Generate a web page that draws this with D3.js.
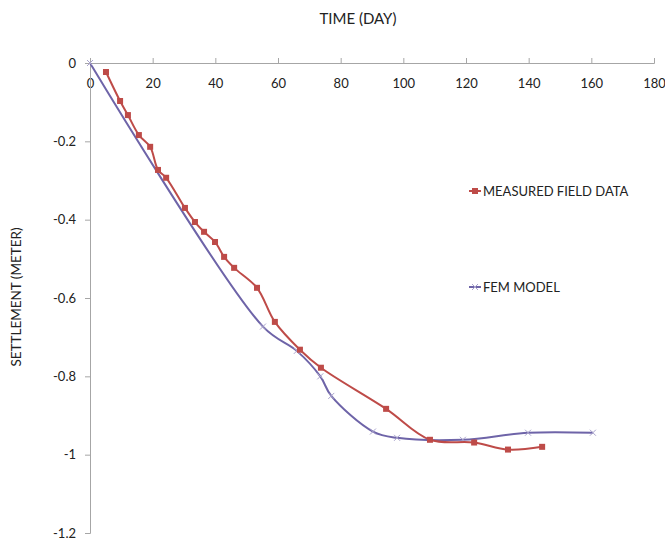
<!DOCTYPE html>
<html>
<head>
<meta charset="utf-8">
<script src="https://cdn.jsdelivr.net/npm/d3@7"></script>
<style>
  body { margin: 0; background: #fff; }
  text { font-family: Lato, "Open Sans", sans-serif; fill: #222; }
</style>
</head>
<body>
<div class="canvas"></div>
<script>
// Data
var measuredDays = [5.1, 9.6, 12.1, 15.6, 19.2, 21.7, 24.3, 30.3, 33.5, 36.4, 39.9, 42.8, 46.0, 53.3, 59.0, 67.0, 73.7, 94.5, 108.5, 122.6, 133.4, 144.3],
    measuredSettle = [-0.023, -0.097, -0.133, -0.184, -0.214, -0.273, -0.293, -0.37, -0.406, -0.431, -0.457, -0.495, -0.523, -0.574, -0.661, -0.732, -0.778, -0.883, -0.962, -0.969, -0.987, -0.98],
    femDays = [0, 55.2, 66, 73.5, 77, 90.3, 98, 119, 139.8, 160.5],
    femSettle = [0, -0.673, -0.735, -0.8, -0.85, -0.941, -0.957, -0.962, -0.944, -0.944],
    xTicks = [0, 20, 40, 60, 80, 100, 120, 140, 160, 180],
    yTicks = [0, -0.2, -0.4, -0.6, -0.8, -1, -1.2],
    seriesNames = ['MEASURED FIELD DATA', 'FEM MODEL'];

// Config
var width = 665,
    height = 541,
    measuredColor = '#BE4B48',
    femColor = '#6E64A8',
    axisColor = '#A6A6A6';

var x = d3.scaleLinear().domain([0, 180]).range([90, 654]),
    y = d3.scaleLinear().domain([0, -1.2]).range([63, 533]);

var svg = d3.select('.canvas').append('svg')
            .attr('width', width)
            .attr('height', height);

// Axes
var xAxis = svg.append('g')
    .attr('transform', 'translate(0,' + y(0) + ')')
    .call(d3.axisTop(x).tickValues(xTicks).tickSize(5).tickFormat(d3.format('d')));
xAxis.selectAll('text').attr('y', 16).attr('dy', '0.71em');

var yAxis = svg.append('g')
    .attr('transform', 'translate(' + x(0) + ',0)')
    .call(d3.axisLeft(y).tickValues(yTicks).tickSize(5).tickFormat(function (d) { return d === 0 ? '0' : String(+d.toFixed(1)); }));
yAxis.selectAll('text').attr('x', -14);

svg.selectAll('.domain, .tick line').attr('stroke', axisColor);
svg.selectAll('.tick text').style('font-size', '13px').attr('fill', '#222');

// Titles
svg.append('text')
    .attr('x', 358).attr('y', 24)
    .attr('text-anchor', 'middle')
    .style('font-size', '15px')
    .text('TIME (DAY)');

svg.append('text')
    .attr('transform', 'translate(21,297) rotate(-90)')
    .attr('text-anchor', 'middle')
    .style('font-size', '13.5px')
    .text('SETTLEMENT (METER)');

// Lines
var measured = measuredDays.map(function (d, i) { return {x: d, y: measuredSettle[i]}; }),
    fem = femDays.map(function (d, i) { return {x: d, y: femSettle[i]}; });

var line = d3.line()
    .x(function (d) { return x(d.x); })
    .y(function (d) { return y(d.y); })
    .curve(d3.curveCatmullRom.alpha(0.5));

svg.append('path')
    .datum(fem)
    .attr('d', line)
    .attr('fill', 'none')
    .attr('stroke', femColor)
    .attr('stroke-width', 2);

svg.selectAll('.femMark')
    .data(fem)
    .enter()
    .append('path')
    .attr('class', 'femMark')
    .attr('transform', function (d) { return 'translate(' + x(d.x) + ',' + y(d.y) + ')'; })
    .attr('d', 'M-3,-3L3,3M-3,3L3,-3')
    .attr('stroke', '#A9A3CC')
    .attr('stroke-width', 1);

svg.append('path')
    .datum(measured)
    .attr('d', line)
    .attr('fill', 'none')
    .attr('stroke', measuredColor)
    .attr('stroke-width', 2);

svg.selectAll('.measMark')
    .data(measured)
    .enter()
    .append('rect')
    .attr('class', 'measMark')
    .attr('x', function (d) { return x(d.x) - 3; })
    .attr('y', function (d) { return y(d.y) - 3; })
    .attr('width', 6)
    .attr('height', 6)
    .attr('fill', measuredColor);

// Legend
var legend = svg.selectAll('.legend')
    .data(seriesNames)
    .enter()
    .append('g')
    .attr('class', 'legend')
    .attr('transform', function (d, i) { return 'translate(469,' + (i === 0 ? 191 : 287) + ')'; });

legend.append('line')
    .attr('x1', 0).attr('x2', 12)
    .attr('stroke', function (d, i) { return i === 0 ? measuredColor : femColor; })
    .attr('stroke-width', 2);

legend.filter(function (d, i) { return i === 0; })
    .append('rect')
    .attr('x', 3).attr('y', -3).attr('width', 6).attr('height', 6)
    .attr('fill', measuredColor);

legend.filter(function (d, i) { return i === 1; })
    .append('path')
    .attr('d', 'M3,-3L9,3M3,3L9,-3')
    .attr('stroke', '#A9A3CC');

legend.append('text')
    .attr('x', 14).attr('dy', '0.35em')
    .style('font-size', '13px')
    .text(function (d) { return d; });
</script>
</body>
</html>
